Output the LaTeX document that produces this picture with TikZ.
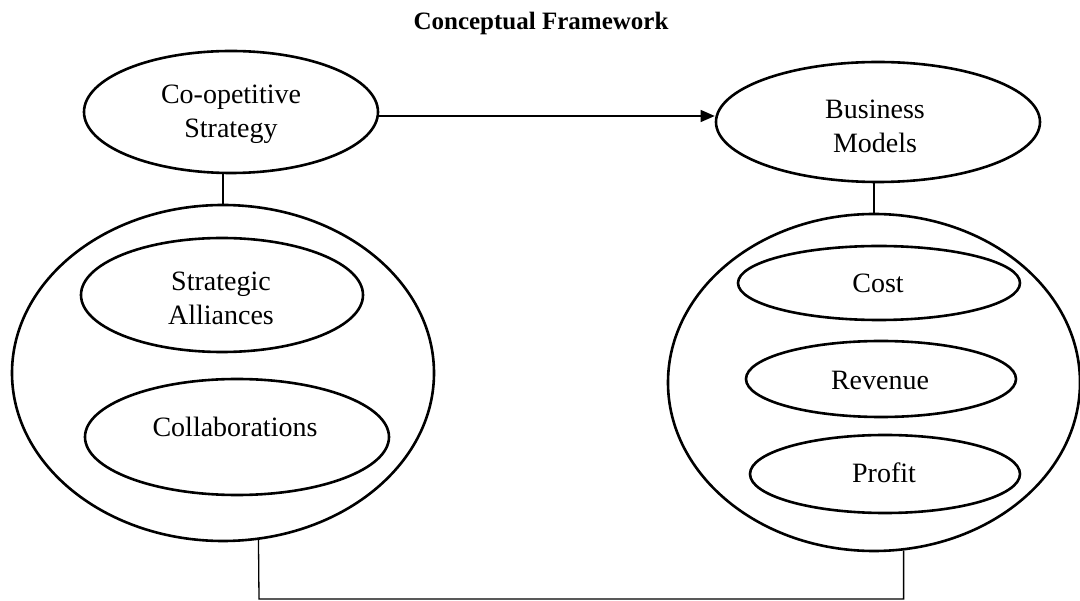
\documentclass[tikz,border=0pt]{standalone}
\usepackage{fontspec}
\setmainfont{Liberation Serif}
\usetikzlibrary{arrows.meta,shapes.geometric}
\begin{document}
\begin{tikzpicture}[x=1pt,y=-1pt,
  oval/.style={draw,ellipse,line width=2.6pt,inner sep=0pt},
  lbl/.style={inner sep=0pt,align=center,font=\fontsize{28}{34}\selectfont},
  link/.style={line width=1.3pt}]
\useasboundingbox (0,0) rectangle (1080,601);
% title
\node[inner sep=0pt,font=\fontsize{25}{30}\selectfont\bfseries] (title) at (541,23) {Conceptual Framework};
% top ellipses
\node[oval,minimum width=294pt,minimum height=122pt] (co) at (231,112) {};
\node[lbl] (cot) at (231,114) {Co-opetitive\\Strategy};
\node[oval,minimum width=324pt,minimum height=120pt] (bm) at (878,122) {};
\node[lbl] (bmt) at (875,126) {Business\\Models};
% big ellipses
\node[oval,minimum width=422pt,minimum height=336pt] (bigL) at (223,373) {};
\node[oval,minimum width=412pt,minimum height=337pt] (bigR) at (874,382.5) {};
% inner left
\node[oval,minimum width=282pt,minimum height=114pt] (sa) at (222,295) {};
\node[lbl] (sat) at (221,298) {Strategic\\Alliances};
\node[oval,minimum width=304pt,minimum height=116pt] (col) at (237,437) {};
\node[lbl] (colt) at (235,427) {Collaborations};
% inner right
\node[oval,minimum width=282pt,minimum height=74pt] (cost) at (879,283) {};
\node[lbl] (costt) at (878,283) {Cost};
\node[oval,minimum width=270pt,minimum height=76pt] (rev) at (881,379) {};
\node[lbl] (revt) at (880,380) {Revenue};
\node[oval,minimum width=270pt,minimum height=78pt] (prof) at (885,474) {};
\node[lbl] (proft) at (884,473) {Profit};
% connectors
\coordinate (arrS) at ([yshift=-4pt]co.east);
\draw[link,-{Triangle[length=14pt,width=12pt]}] (arrS) -- (arrS -| bm.west);
\draw[link] (bigL.north) -- (bigL.north |- co.south);
\draw[link] (bigR.north) -- (bigR.north |- bm.south);
\coordinate (botL) at (259,599);
\draw[link] (bigL.-78) -- (botL) -| (bigR.-80);
\end{tikzpicture}
\end{document}
